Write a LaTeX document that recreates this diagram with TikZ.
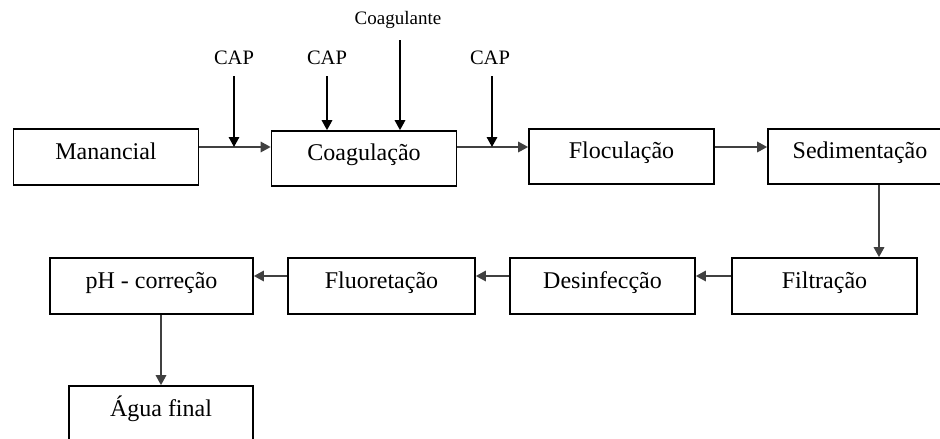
\documentclass[tikz,border=0pt]{standalone}
\usepackage{fontspec}
\setmainfont{Liberation Serif}
\usetikzlibrary{arrows.meta}
\tikzset{
  stage/.style={draw=black, line width=1.7pt, minimum width=185pt, minimum height=56pt,
    inner sep=0pt, font=\fontsize{24}{28}\selectfont, text height=0.68em, text depth=0.22em},
  addlabel/.style={inner sep=0pt, font=\fontsize{20.5}{24}\selectfont},
  smalllabel/.style={inner sep=0pt, font=\fontsize{19}{22}\selectfont},
  flow/.style={draw=black!75, line width=1.7pt, -{Triangle[length=10pt,width=10.5pt]}},
  feed/.style={draw=black, line width=1.7pt, -{Triangle[length=10pt,width=10.5pt]}}
}
\begin{document}
\begin{tikzpicture}[x=1pt,y=-1pt]
\useasboundingbox (0,0) rectangle (940,439);
\clip (0,0) rectangle (940,439);
% row 1
\node[stage] (man) at (106,157) {Manancial};
\node[stage, minimum height=55pt] (coag) at (364,158.5) {Coagulação};
\node[stage, minimum height=55pt] (floc) at (621.5,156.5) {Floculação};
\node[stage, minimum height=55pt, minimum width=184pt] (sed) at (860,156.5) {Sedimentação};
% row 2
\node[stage] (filt) at (824.5,286) {Filtração};
\node[stage] (des) at (602.5,286) {Desinfecção};
\node[stage, minimum width=187pt] (fluo) at (381.5,286) {Fluoretação};
\node[stage, minimum width=203pt] (ph) at (151.5,286) {pH - correção};
\node[stage, minimum width=184pt] (agua) at (161,414) {Água final};
% labels
\node[addlabel] (cap1) at (234,57.5) {CAP};
\node[addlabel] (cap2) at (327,57.5) {CAP};
\node[addlabel] (cap3) at (490,57.5) {CAP};
\node[smalllabel] (coagl) at (398,20) {Coagulante};
% junction points
\coordinate (j1) at (234,147);
\coordinate (j3) at (492,147);
% main flow
\draw[flow] (man.east |- j1) -- (coag.west |- j1);
\draw[flow] (coag.east |- j3) -- (floc.west |- j3);
\draw[flow] (floc.east |- j3) -- (sed.west |- j3);
\draw[flow] (sed.south -| 879,0) -- (filt.north -| 879,0);
\coordinate (r2) at (0,276);
\draw[flow] (filt.west |- r2) -- (des.east |- r2);
\draw[flow] (des.west |- r2) -- (fluo.east |- r2);
\draw[flow] (fluo.west |- r2) -- (ph.east |- r2);
\draw[flow] (ph.south -| agua.north) -- (agua.north);
% additions
\draw[feed] (234,76) -- (j1);
\draw[feed] (cap2.south |- 0,76) -- (cap2.south |- coag.north);
\draw[feed] (400,40) -- (400,0 |- coag.north);
\draw[feed] (492,76) -- (j3);
\end{tikzpicture}
\end{document}
